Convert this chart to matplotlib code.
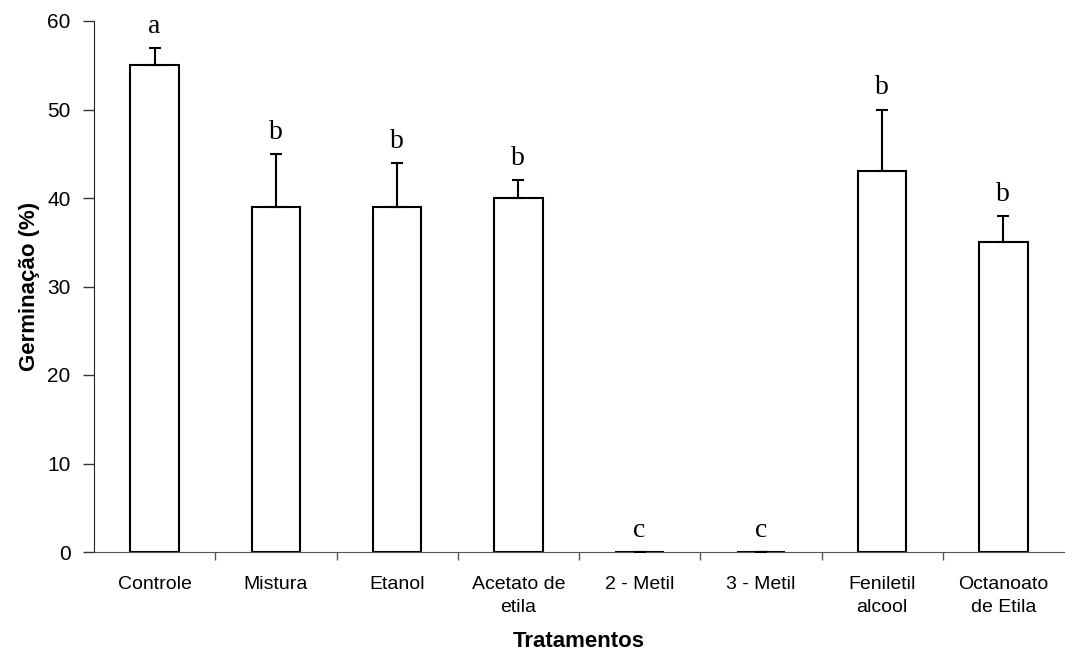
import matplotlib

matplotlib.use("Agg")
import matplotlib.pyplot as plt
import numpy as np


TREATMENTS = [
    "Controle",
    "Mistura",
    "Etanol",
    "Acetato de\netila",
    "2 - Metil",
    "3 - Metil",
    "Feniletil\nalcool",
    "Octanoato\nde Etila",
]
GERMINATION = [55, 39, 39, 40, 0, 0, 43, 35]
ERROR_UP = [2, 6, 5, 2, 0, 0, 7, 3]
LETTERS = ["a", "b", "b", "b", "c", "c", "b", "b"]

Y_TICKS = [0, 10, 20, 30, 40, 50, 60]


def main():
    fig = plt.figure(figsize=(10.65, 6.64), dpi=100)
    ax = fig.add_axes([94 / 1065, 112 / 664, (1064 - 94) / 1065, 531 / 664])

    x = np.arange(len(TREATMENTS))
    ax.bar(x, GERMINATION, width=0.4, color="white", edgecolor="black", linewidth=1.5, zorder=2)
    ax.errorbar(
        x,
        GERMINATION,
        yerr=[np.zeros(len(x)), ERROR_UP],
        fmt="none",
        ecolor="black",
        elinewidth=1.5,
        capsize=4.5,
        capthick=1.5,
        zorder=3,
    )

    # significance letters, baseline a fixed step above the cap
    for xi, val, err, letter in zip(x, GERMINATION, ERROR_UP, LETTERS):
        ax.text(xi, val + err + 1.7, letter, ha="center", va="baseline",
                fontsize=20, family="Liberation Serif")

    ax.set_xlim(-0.5, len(TREATMENTS) - 0.5)
    ax.set_ylim(0, 60)
    ax.set_yticks(Y_TICKS)
    ax.set_yticklabels([str(v) for v in Y_TICKS], fontsize=15, family="Liberation Sans")

    # category labels sit between the boundary ticks, Excel style
    ax.set_xticks(x[:-1] + 0.5)
    ax.set_xticklabels([])
    ax.set_xticks(x, minor=True)
    ax.set_xticklabels(TREATMENTS, minor=True, fontsize=14, family="Liberation Sans",
                       linespacing=1.5)
    ax.tick_params(axis="x", which="minor", length=0, pad=17)
    ax.tick_params(axis="x", which="major", length=6, width=1, color="#555555")
    ax.tick_params(axis="y", length=8, width=1, pad=9, color="#333333")

    ax.spines["top"].set_visible(False)
    ax.spines["right"].set_visible(False)
    ax.spines["left"].set_color("#222222")
    ax.spines["bottom"].set_color("#555555")

    ax.set_xlabel("Tratamentos", fontsize=16, fontweight="bold", family="Liberation Sans", labelpad=11)
    ax.set_ylabel("Germinação (%)", fontsize=16, fontweight="bold", family="Liberation Sans", labelpad=5)

    fig.savefig("out.png", dpi=100)
    plt.close(fig)


if __name__ == "__main__":
    main()
